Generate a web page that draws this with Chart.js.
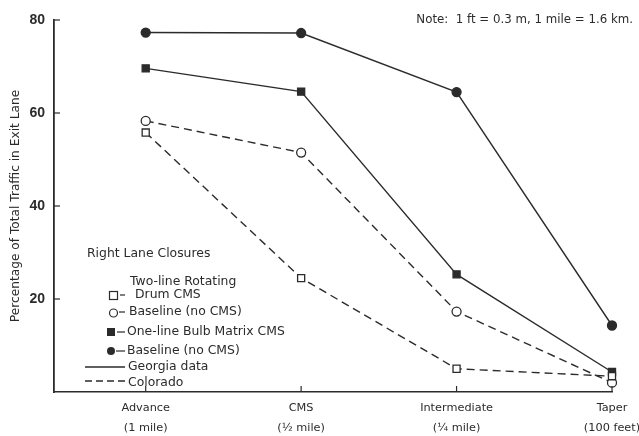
<!DOCTYPE html>
<html><head><meta charset="utf-8">
<script src="https://cdn.jsdelivr.net/npm/chart.js@4.4.1/dist/chart.umd.min.js"></script>
<style>html,body{margin:0;padding:0;background:#fff}#wrap{width:639px;height:436px}</style>
</head><body><div id="wrap"><canvas id="c" width="639" height="436"></canvas></div>
<script>
const categories = ['Advance', 'CMS', 'Intermediate', 'Taper'];
const categoryNotes = ['(1 mile)', '(\u00bd mile)', '(\u00bc mile)', '(100 feet)'];
const yTicks = [20, 40, 60, 80];
const georgiaBaseline = [77.3, 77.2, 64.5, 14.3];
const georgiaBulbCMS = [69.6, 64.6, 25.3, 4.3];
const coloradoBaseline = [58.3, 51.5, 17.3, 2.0];
const coloradoDrumCMS = [55.8, 24.5, 5.0, 3.4];

const INK = '#2b2b2b';
const FONT = '"DejaVu Sans", sans-serif';
const pts = arr => arr.map((v, i) => ({x: i, y: v}));

function ds(label, arr, style, filled, dashed) {
  return {
    label, data: pts(arr), borderColor: INK, borderWidth: 1.4,
    borderDash: dashed ? [8, 5] : [],
    pointStyle: style, pointRadius: style === 'rect' ? 5 : 4.5,
    pointBackgroundColor: filled ? INK : '#fff', pointBorderColor: INK, pointBorderWidth: 1.3,
    tension: 0, clip: false, fill: false
  };
}

const decor = {
  id: 'decor',
  afterDraw(chart) {
    const ctx = chart.ctx, xs = chart.scales.x, ys = chart.scales.y;
    ctx.save();
    ctx.strokeStyle = INK; ctx.lineWidth = 1.2;
    // inside ticks
    yTicks.forEach(v => { const y = ys.getPixelForValue(v); ctx.beginPath(); ctx.moveTo(xs.left, y); ctx.lineTo(xs.left + 6, y); ctx.stroke(); });
    categories.forEach((c, i) => { const x = xs.getPixelForValue(i); ctx.beginPath(); ctx.moveTo(x, ys.bottom); ctx.lineTo(x, ys.bottom - 6); ctx.stroke(); });
    // note
    ctx.fillStyle = INK; ctx.font = '11.8px ' + FONT; ctx.textAlign = 'right'; ctx.textBaseline = 'middle';
    ctx.fillText('Note:  1 ft = 0.3 m, 1 mile = 1.6 km.', 633, 20);
    // legend
    ctx.textAlign = 'left'; ctx.font = '12.4px ' + FONT;
    ctx.fillText('Right Lane Closures', 87, 254);
    ctx.fillText('Two-line Rotating', 130, 282);
    ctx.fillText('Drum CMS', 135, 295);
    ctx.fillText('Baseline (no CMS)', 129, 312);
    ctx.fillText('One-line Bulb Matrix CMS', 127, 332);
    ctx.fillText('Baseline (no CMS)', 127, 351);
    ctx.fillText('Georgia data', 128, 367);
    ctx.fillText('Colorado', 128, 383);
    ctx.lineWidth = 1.2;
    const dash = (x1, x2, y) => { ctx.beginPath(); ctx.moveTo(x1, y); ctx.lineTo(x2, y); ctx.stroke(); };
    // markers
    ctx.fillStyle = '#fff'; ctx.strokeRect(109.5, 291.5, 8, 8); dash(120, 125, 295);
    ctx.beginPath(); ctx.arc(113.5, 313, 4, 0, Math.PI * 2); ctx.fillStyle = '#fff'; ctx.fill(); ctx.stroke(); dash(119, 125, 312);
    ctx.fillStyle = INK; ctx.fillRect(107, 328, 8, 8); dash(117, 125, 332);
    ctx.beginPath(); ctx.arc(111, 351, 4, 0, Math.PI * 2); ctx.fill(); dash(116, 125, 351);
    ctx.lineWidth = 1.4; dash(85, 125, 367);
    ctx.setLineDash([7, 4]); dash(85, 125, 381);
    ctx.restore();
  }
};

new Chart(document.getElementById('c'), {
  type: 'line',
  data: { datasets: [
    ds('Two-line Rotating Drum CMS (Colorado)', coloradoDrumCMS, 'rect', false, true),
    ds('Baseline (no CMS) (Colorado)', coloradoBaseline, 'circle', false, true),
    ds('One-line Bulb Matrix CMS (Georgia)', georgiaBulbCMS, 'rect', true, false),
    ds('Baseline (no CMS) (Georgia)', georgiaBaseline, 'circle', true, false)
  ]},
  options: {
    responsive: false, animation: false,
    layout: { padding: { left: 0, right: 27, top: 20, bottom: 0 } },
    plugins: { legend: { display: false }, tooltip: { enabled: false } },
    scales: {
      x: {
        type: 'linear', min: -0.59, max: 3,
        afterBuildTicks: s => { s.ticks = categories.map((c, i) => ({value: i})); },
        afterFit: s => { s.height = 44; },
        grid: { display: false },
        border: { display: true, color: INK, width: 1.5 },
        ticks: { color: INK, padding: -2, font: { family: FONT, size: 11.3, lineHeight: 1.8 },
          callback: v => [categories[v], categoryNotes[v]], maxRotation: 0, autoSkip: false }
      },
      y: {
        min: 0, max: 80,
        afterBuildTicks: s => { s.ticks = yTicks.map(v => ({value: v})); },
        afterFit: s => { s.width = 54; },
        grid: { display: false },
        border: { display: true, color: INK, width: 1.8 },
        ticks: { color: INK, padding: 1, font: { family: 'Liberation Sans', size: 14, weight: 'bold' } },
        title: { display: true, text: 'Percentage of Total Traffic in Exit Lane', color: INK,
          font: { family: FONT, size: 12.2 }, padding: { top: 9, bottom: 0 } }
      }
    }
  },
  plugins: [decor]
});
</script></body></html>
